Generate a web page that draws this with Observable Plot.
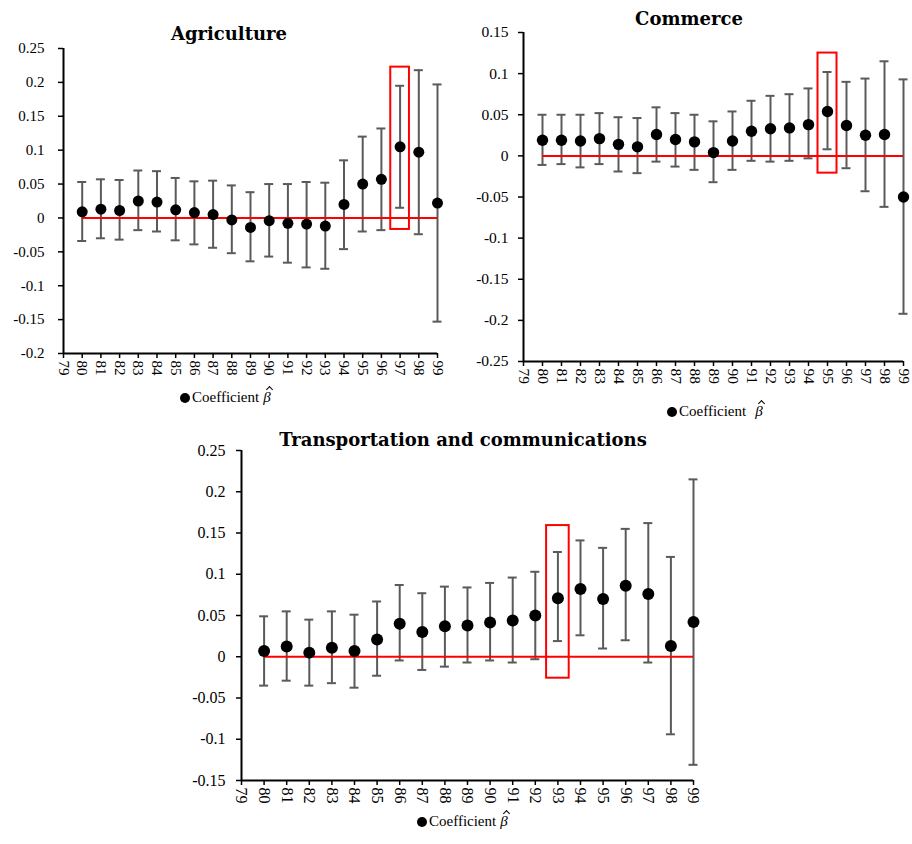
<!DOCTYPE html>
<html>
<head>
<meta charset="utf-8">
<script src="https://cdn.jsdelivr.net/npm/d3@7"></script>
<script src="https://cdn.jsdelivr.net/npm/@observablehq/plot@0.6"></script>
<style>
  html, body { margin: 0; padding: 0; background: #fff; }
  #root { position: relative; width: 912px; height: 844px; overflow: hidden; background: #fff; }
  .panel { position: absolute; }
  .panel text { font-family: "Liberation Serif", serif !important; fill: #000; }
  .title { position: absolute; font-family: "DejaVu Serif", serif; font-weight: bold; font-size: 18px; line-height: 1; white-space: nowrap; transform: translateX(-50%); color: #000; }
  .legend { position: absolute; font-family: "Liberation Serif", serif; font-size: 15px; line-height: 1; white-space: nowrap; color: #000; display: flex; align-items: center; }
  .legend .sw { display: inline-block; width: 10px; height: 10px; border-radius: 50%; background: #000; margin-right: 2px; }
  .legend .beta { position: relative; display: inline-block; margin-left: 4px; font-style: italic; font-family: "Liberation Serif", serif; font-size: 15px; }
  .legend .beta::after { content: ""; position: absolute; left: 4px; top: -3px; width: 4px; height: 4px; border-left: 1px solid #000; border-top: 1px solid #000; transform: rotate(45deg); }
</style>
</head>
<body>
<div id="root"></div>
<script>
// ---------- data ----------
const years = [80, 81, 82, 83, 84, 85, 86, 87, 88, 89, 90, 91, 92, 93, 94, 95, 96, 97, 98, 99];
const xTicks = [79, 80, 81, 82, 83, 84, 85, 86, 87, 88, 89, 90, 91, 92, 93, 94, 95, 96, 97, 98, 99];

// Agriculture
const agriTitle = "Agriculture";
const agriCoef = [0.009, 0.013, 0.011, 0.025, 0.0235, 0.012, 0.008, 0.005, -0.003, -0.014, -0.004, -0.008, -0.009, -0.012, 0.020, 0.050, 0.057, 0.105, 0.097, 0.022];
const agriHi   = [0.053, 0.057, 0.056, 0.070, 0.069, 0.059, 0.054, 0.055, 0.048, 0.038, 0.050, 0.050, 0.053, 0.052, 0.085, 0.120, 0.132, 0.195, 0.218, 0.197];
const agriLo   = [-0.034, -0.030, -0.032, -0.018, -0.020, -0.033, -0.039, -0.044, -0.052, -0.064, -0.057, -0.066, -0.073, -0.075, -0.046, -0.020, -0.018, 0.015, -0.024, -0.153];
const agriYTicks = [-0.2, -0.15, -0.1, -0.05, 0, 0.05, 0.1, 0.15, 0.2, 0.25];
const agriHighlight = {year: 97, y1: -0.017, y2: 0.2225};

// Commerce
const commTitle = "Commerce";
const commCoef = [0.019, 0.019, 0.018, 0.021, 0.014, 0.011, 0.026, 0.020, 0.017, 0.004, 0.018, 0.030, 0.033, 0.034, 0.038, 0.054, 0.037, 0.025, 0.026, -0.050];
const commHi   = [0.050, 0.050, 0.050, 0.052, 0.047, 0.046, 0.059, 0.052, 0.050, 0.042, 0.054, 0.067, 0.073, 0.075, 0.082, 0.102, 0.090, 0.094, 0.115, 0.093];
const commLo   = [-0.011, -0.010, -0.014, -0.010, -0.019, -0.021, -0.007, -0.013, -0.017, -0.032, -0.017, -0.006, -0.007, -0.006, -0.003, 0.008, -0.015, -0.043, -0.062, -0.192];
const commYTicks = [-0.25, -0.2, -0.15, -0.1, -0.05, 0, 0.05, 0.1, 0.15];
const commHighlight = {year: 95, y1: -0.021, y2: 0.125};

// Transportation and communications
const tranTitle = "Transportation and communications";
const tranCoef = [0.007, 0.0125, 0.005, 0.011, 0.007, 0.021, 0.040, 0.030, 0.037, 0.038, 0.0415, 0.044, 0.050, 0.071, 0.082, 0.070, 0.086, 0.076, 0.013, 0.042];
const tranHi   = [0.049, 0.055, 0.045, 0.055, 0.051, 0.067, 0.087, 0.077, 0.085, 0.084, 0.0895, 0.096, 0.103, 0.127, 0.141, 0.132, 0.155, 0.162, 0.121, 0.215];
const tranLo   = [-0.035, -0.029, -0.035, -0.032, -0.0375, -0.023, -0.0045, -0.016, -0.012, -0.007, -0.0045, -0.007, -0.003, 0.019, 0.026, 0.010, 0.020, -0.007, -0.094, -0.131];
const tranYTicks = [-0.15, -0.1, -0.05, 0, 0.05, 0.1, 0.15, 0.2, 0.25];
const tranHighlight = {year: 93, y1: -0.026, y2: 0.159};

const legendLabel = "Coefficient";

// ---------- drawing ----------
const root = document.getElementById("root");
const fmt = d => d === 0 ? "0" : String(d);
const tickFont = "Liberation Serif";

function panel(cfg) {
  const data = years.map((year, i) => ({year, coef: cfg.coef[i], hi: cfg.hi[i], lo: cfg.lo[i]}));
  const h = cfg.highlight;
  const hl = [{x1: h.year - 0.5, x2: h.year + 0.5, y1: h.y1, y2: h.y2}];
  const chart = Plot.plot({
    width: cfg.width,
    height: cfg.height,
    marginLeft: cfg.ml, marginRight: cfg.mr, marginTop: cfg.mt, marginBottom: cfg.mb,
    x: {domain: [xTicks[0], xTicks[xTicks.length - 1]]},
    y: {domain: [cfg.yTicks[0], cfg.yTicks[cfg.yTicks.length - 1]]},
    style: {"font-family": tickFont, "font-size": "15px", "color": "#000", "background": "transparent", "overflow": "visible"},
    marks: [
      Plot.ruleX(data, {x: "year", y1: "lo", y2: "hi", stroke: "#5a5a5a", strokeWidth: 2}),
      Plot.ruleY(data, {y: "hi", x1: "year", x2: "year", insetLeft: -4.5, insetRight: -4.5, stroke: "#5a5a5a", strokeWidth: 2}),
      Plot.ruleY(data, {y: "lo", x1: "year", x2: "year", insetLeft: -4.5, insetRight: -4.5, stroke: "#5a5a5a", strokeWidth: 2}),
      Plot.ruleY([0], {x1: years[0], x2: years[years.length - 1], stroke: "#ff0000", strokeWidth: 2}),
      Plot.dot(data, {x: "year", y: "coef", r: cfg.r, fill: "#000", stroke: "none"}),
      Plot.rect(hl, {x1: "x1", x2: "x2", y1: "y1", y2: "y2", fill: "none", stroke: "#ff0000", strokeWidth: 2}),
      Plot.axisY({ticks: cfg.yTicks, tickFormat: fmt, tickSize: 5, tickPadding: cfg.yPad, fontSize: cfg.yFont, fontFamily: tickFont, label: null, stroke: "#000", strokeWidth: 1.5}),
      Plot.axisX({ticks: xTicks, tickFormat: d => String(d), tickRotate: 90, tickSize: 5, tickPadding: 2, fontSize: cfg.xFont, fontFamily: tickFont, label: null, stroke: "#000", strokeWidth: 1.5}),
      Plot.ruleX([xTicks[0]], {stroke: "#000", strokeWidth: 2}),
      Plot.ruleY([cfg.yTicks[0]], {stroke: "#000", strokeWidth: 2})
    ]
  });
  chart.classList.add("panel");
  chart.style.left = cfg.left + "px";
  chart.style.top = cfg.top + "px";
  root.appendChild(chart);

  const t = document.createElement("div");
  t.className = "title";
  t.textContent = cfg.title;
  t.style.left = cfg.titleX + "px";
  t.style.top = cfg.titleY + "px";
  root.appendChild(t);

  const lg = document.createElement("div");
  lg.className = "legend";
  lg.style.left = cfg.legX + "px";
  lg.style.top = cfg.legY + "px";
  lg.innerHTML = `<span class="sw"></span><span>${legendLabel}</span><span class="beta" style="margin-left:${cfg.betaGap}px">β</span>`;
  root.appendChild(lg);
}

panel({title: agriTitle, coef: agriCoef, hi: agriHi, lo: agriLo, yTicks: agriYTicks, highlight: agriHighlight,
  left: 0, top: 0, width: 455, height: 420, ml: 63, mr: 18, mt: 48, mb: 67, r: 5.5, yPad: 14, yFont: 15, xFont: 15,
  titleX: 229, titleY: 25, legX: 180, legY: 390, betaGap: 4});

panel({title: commTitle, coef: commCoef, hi: commHi, lo: commLo, yTicks: commYTicks, highlight: commHighlight,
  left: 455, top: 0, width: 457, height: 420, ml: 68, mr: 9, mt: 32, mb: 59, r: 5.7, yPad: 10, yFont: 15.5, xFont: 15.5,
  titleX: 689, titleY: 10, legX: 667, legY: 404, betaGap: 9});

panel({title: tranTitle, coef: tranCoef, hi: tranHi, lo: tranLo, yTicks: tranYTicks, highlight: tranHighlight,
  left: 190, top: 420, width: 560, height: 424, ml: 51, mr: 57, mt: 30, mb: 64, r: 6, yPad: 11, yFont: 16, xFont: 16,
  titleX: 463, titleY: 431, legX: 417, legY: 814, betaGap: 4});
</script>
</body>
</html>
